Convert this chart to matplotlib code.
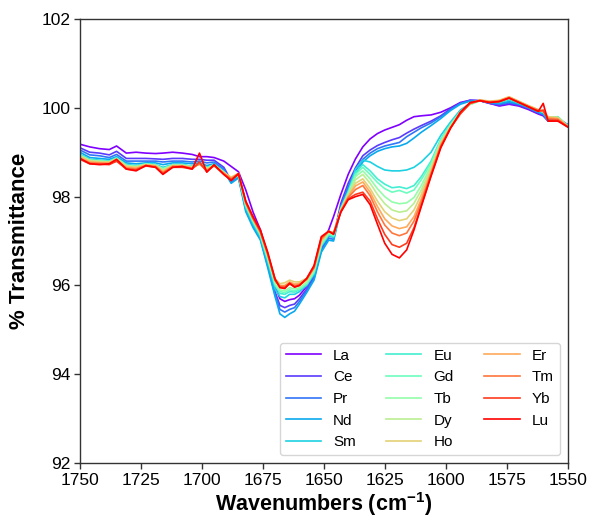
import numpy as np
import matplotlib
matplotlib.use("Agg")
import matplotlib.pyplot as plt

plt.rcParams['font.family'] = ['Liberation Sans', 'DejaVu Sans']
plt.rcParams['mathtext.fontset'] = 'custom'
plt.rcParams['mathtext.rm'] = 'Liberation Sans'
plt.rcParams['mathtext.bf'] = 'Liberation Sans:bold'

wavenumbers = [1750, 1746, 1742, 1738, 1735, 1731, 1727, 1723, 1719, 1716, 1712, 1708, 1704, 1701, 1698, 1695, 1691,
               1688, 1685, 1682, 1679, 1676, 1673, 1670, 1668, 1666, 1664, 1662, 1660, 1657, 1654, 1651, 1648, 1646,
               1643, 1640, 1637, 1634, 1631, 1628, 1625, 1622, 1619, 1616, 1613, 1610, 1606, 1602, 1598,
               1594, 1590, 1586, 1582, 1578, 1574, 1570, 1566, 1562, 1560, 1558, 1554, 1550]

labels = ['La', 'Ce', 'Pr', 'Nd', 'Sm', 'Eu', 'Gd', 'Tb', 'Dy', 'Ho', 'Er', 'Tm', 'Yb', 'Lu']

La = [99.18, 99.12, 99.08, 99.06, 99.14, 98.98, 99.00, 98.98, 98.97, 98.98, 99.00, 98.98, 98.95, 98.90, 98.90, 98.88, 98.80,
      98.68, 98.56, 98.15, 97.65, 97.25, 96.68, 96.00, 95.70, 95.64, 95.68, 95.70, 95.78, 95.98, 96.25, 96.90, 97.25, 97.55,
      98.05, 98.50, 98.85, 99.12, 99.30, 99.42, 99.50, 99.56, 99.62, 99.72, 99.80, 99.82, 99.84, 99.90, 100.00,
      100.12, 100.17, 100.16, 100.10, 100.04, 100.08, 100.04, 99.96, 99.86, 99.82, 99.70, 99.74, 99.62]
Ce = [99.10, 99.00, 98.98, 98.94, 99.02, 98.86, 98.86, 98.86, 98.85, 98.84, 98.86, 98.86, 98.84, 98.84, 98.82, 98.82, 98.66,
      98.36, 98.48, 97.74, 97.38, 97.08, 96.50, 95.86, 95.55, 95.50, 95.55, 95.58, 95.70, 95.92, 96.20, 96.84, 97.10, 97.10,
      97.85, 98.30, 98.65, 98.92, 99.05, 99.15, 99.22, 99.28, 99.33, 99.43, 99.52, 99.60, 99.70, 99.82, 99.98,
      100.10, 100.17, 100.16, 100.10, 100.06, 100.10, 100.06, 99.98, 99.88, 99.84, 99.72, 99.75, 99.62]
Pr = [99.05, 98.94, 98.92, 98.88, 98.95, 98.80, 98.80, 98.80, 98.80, 98.78, 98.80, 98.80, 98.78, 98.80, 98.76, 98.78, 98.62,
      98.32, 98.44, 97.70, 97.34, 97.05, 96.45, 95.80, 95.46, 95.40, 95.46, 95.50, 95.64, 95.88, 96.16, 96.80, 97.06, 97.04,
      97.78, 98.22, 98.58, 98.84, 98.98, 99.08, 99.14, 99.18, 99.22, 99.35, 99.45, 99.55, 99.66, 99.80, 99.96,
      100.10, 100.16, 100.16, 100.11, 100.08, 100.12, 100.08, 100.00, 99.90, 99.86, 99.72, 99.76, 99.62]
Nd = [99.00, 98.88, 98.86, 98.84, 98.90, 98.76, 98.74, 98.76, 98.76, 98.72, 98.76, 98.76, 98.74, 98.76, 98.70, 98.74, 98.58,
      98.30, 98.42, 97.66, 97.30, 97.02, 96.40, 95.75, 95.36, 95.28, 95.36, 95.42, 95.58, 95.84, 96.12, 96.75, 97.02, 97.00,
      97.72, 98.15, 98.50, 98.78, 98.92, 99.02, 99.08, 99.12, 99.14, 99.20, 99.32, 99.45, 99.60, 99.76, 99.94,
      100.08, 100.15, 100.16, 100.12, 100.10, 100.14, 100.09, 100.00, 99.90, 99.86, 99.70, 99.76, 99.60]
Sm = [98.95, 98.84, 98.82, 98.80, 98.88, 98.72, 98.70, 98.74, 98.72, 98.66, 98.72, 98.72, 98.68, 98.74, 98.66, 98.72, 98.56,
      98.38, 98.46, 97.74, 97.38, 97.08, 96.52, 95.92, 95.75, 95.72, 95.80, 95.80, 95.86, 96.00, 96.25, 96.88, 97.12, 97.08,
      97.75, 98.12, 98.62, 98.82, 98.78, 98.68, 98.60, 98.58, 98.58, 98.60, 98.66, 98.78, 99.00, 99.38, 99.68,
      99.95, 100.10, 100.16, 100.13, 100.12, 100.18, 100.10, 100.02, 99.93, 99.90, 99.76, 99.78, 99.60]
Eu = [98.94, 98.83, 98.81, 98.80, 98.87, 98.71, 98.69, 98.74, 98.72, 98.64, 98.72, 98.72, 98.68, 98.74, 98.65, 98.72, 98.56,
      98.40, 98.48, 97.78, 97.42, 97.12, 96.58, 96.00, 95.82, 95.80, 95.86, 95.85, 95.90, 96.02, 96.28, 96.90, 97.15, 97.10,
      97.72, 98.10, 98.55, 98.72, 98.58, 98.40, 98.28, 98.20, 98.22, 98.18, 98.25, 98.45, 98.80, 99.30, 99.64,
      99.92, 100.08, 100.16, 100.13, 100.13, 100.20, 100.12, 100.03, 99.94, 99.90, 99.78, 99.80, 99.60]
Gd = [98.93, 98.82, 98.80, 98.79, 98.86, 98.70, 98.68, 98.73, 98.71, 98.63, 98.71, 98.71, 98.67, 98.73, 98.65, 98.71, 98.55,
      98.40, 98.48, 97.80, 97.44, 97.14, 96.60, 96.02, 95.86, 95.84, 95.90, 95.88, 95.92, 96.04, 96.30, 96.92, 97.16, 97.12,
      97.72, 98.08, 98.50, 98.66, 98.50, 98.32, 98.18, 98.10, 98.14, 98.08, 98.15, 98.38, 98.75, 99.28, 99.62,
      99.90, 100.08, 100.16, 100.13, 100.14, 100.21, 100.12, 100.03, 99.94, 99.91, 99.78, 99.79, 99.59]
Tb = [98.92, 98.82, 98.80, 98.78, 98.86, 98.70, 98.68, 98.73, 98.71, 98.62, 98.71, 98.71, 98.67, 98.73, 98.64, 98.71, 98.55,
      98.42, 98.50, 97.82, 97.46, 97.16, 96.62, 96.05, 95.90, 95.88, 95.95, 95.92, 95.95, 96.06, 96.33, 96.95, 97.18, 97.14,
      97.71, 98.06, 98.45, 98.58, 98.40, 98.18, 98.00, 97.88, 97.84, 97.86, 97.98, 98.25, 98.70, 99.25, 99.60,
      99.90, 100.08, 100.16, 100.14, 100.15, 100.22, 100.13, 100.04, 99.95, 99.92, 99.78, 99.78, 99.59]
Dy = [98.92, 98.81, 98.79, 98.78, 98.85, 98.69, 98.67, 98.72, 98.70, 98.60, 98.70, 98.70, 98.66, 98.73, 98.63, 98.70, 98.54,
      98.42, 98.50, 97.84, 97.48, 97.18, 96.65, 96.10, 95.97, 95.96, 96.02, 95.98, 96.00, 96.10, 96.36, 96.98, 97.20, 97.16,
      97.70, 98.04, 98.38, 98.50, 98.30, 98.05, 97.84, 97.70, 97.65, 97.68, 97.85, 98.15, 98.65, 99.22, 99.58,
      99.90, 100.08, 100.17, 100.14, 100.16, 100.23, 100.14, 100.04, 99.95, 99.92, 99.79, 99.78, 99.59]
Ho = [98.90, 98.80, 98.78, 98.78, 98.84, 98.68, 98.66, 98.72, 98.70, 98.58, 98.70, 98.70, 98.66, 98.74, 98.62, 98.70, 98.54,
      98.44, 98.52, 97.86, 97.50, 97.20, 96.68, 96.15, 96.04, 96.06, 96.12, 96.08, 96.08, 96.16, 96.40, 97.00, 97.22, 97.18,
      97.69, 98.02, 98.30, 98.40, 98.18, 97.90, 97.66, 97.52, 97.46, 97.50, 97.70, 98.05, 98.60, 99.20, 99.57,
      99.90, 100.10, 100.18, 100.15, 100.17, 100.25, 100.15, 100.05, 99.96, 99.93, 99.80, 99.78, 99.59]
Er = [98.88, 98.78, 98.76, 98.76, 98.82, 98.66, 98.64, 98.71, 98.69, 98.56, 98.69, 98.69, 98.65, 98.74, 98.60, 98.70, 98.53,
      98.42, 98.52, 97.86, 97.50, 97.20, 96.70, 96.14, 96.00, 96.00, 96.08, 96.03, 96.05, 96.14, 96.40, 97.02, 97.22, 97.18,
      97.68, 98.00, 98.24, 98.33, 98.10, 97.78, 97.50, 97.34, 97.28, 97.32, 97.55, 97.95, 98.55, 99.18, 99.56,
      99.88, 100.10, 100.17, 100.14, 100.16, 100.24, 100.14, 100.04, 99.95, 99.92, 99.78, 99.76, 99.58]
Tm = [98.86, 98.76, 98.75, 98.74, 98.80, 98.64, 98.62, 98.70, 98.68, 98.54, 98.68, 98.68, 98.64, 98.74, 98.58, 98.70, 98.52,
      98.40, 98.52, 97.86, 97.50, 97.20, 96.70, 96.12, 95.98, 95.98, 96.05, 96.00, 96.02, 96.14, 96.40, 97.05, 97.22, 97.18,
      97.67, 97.98, 98.16, 98.25, 98.02, 97.66, 97.36, 97.18, 97.12, 97.18, 97.45, 97.88, 98.52, 99.15, 99.55,
      99.88, 100.10, 100.17, 100.13, 100.15, 100.23, 100.13, 100.03, 99.94, 99.92, 99.76, 99.74, 99.58]
Yb = [98.84, 98.74, 98.73, 98.72, 98.80, 98.62, 98.60, 98.69, 98.66, 98.52, 98.66, 98.66, 98.62, 98.78, 98.56, 98.70, 98.50,
      98.38, 98.50, 97.88, 97.52, 97.22, 96.72, 96.12, 95.96, 95.95, 96.04, 95.97, 96.00, 96.15, 96.42, 97.08, 97.22, 97.16,
      97.66, 97.95, 98.05, 98.10, 97.90, 97.50, 97.15, 96.92, 96.86, 96.95, 97.30, 97.80, 98.48, 99.12, 99.55,
      99.86, 100.10, 100.16, 100.12, 100.14, 100.22, 100.12, 100.02, 99.92, 99.95, 99.72, 99.72, 99.57]
Lu = [98.86, 98.74, 98.72, 98.74, 98.84, 98.62, 98.58, 98.70, 98.66, 98.50, 98.66, 98.68, 98.62, 98.98, 98.55, 98.72, 98.50,
      98.36, 98.52, 97.90, 97.55, 97.25, 96.75, 96.15, 95.95, 95.93, 96.05, 95.96, 96.00, 96.16, 96.45, 97.10, 97.22, 97.15,
      97.65, 97.93, 98.00, 98.05, 97.82, 97.38, 96.95, 96.70, 96.62, 96.80, 97.25, 97.78, 98.46, 99.10, 99.54,
      99.90, 100.12, 100.16, 100.12, 100.14, 100.22, 100.12, 100.02, 99.92, 100.10, 99.70, 99.70, 99.57]

series = [La, Ce, Pr, Nd, Sm, Eu, Gd, Tb, Dy, Ho, Er, Tm, Yb, Lu]

xticks = [1750, 1725, 1700, 1675, 1650, 1625, 1600, 1575, 1550]
yticks = [92, 94, 96, 98, 100, 102]

fig = plt.figure(figsize=(5.9, 5.25), dpi=100)
ax = fig.add_axes([0.1356, 0.118, 0.962 - 0.1356, 0.9638 - 0.118])

colors = plt.cm.rainbow(np.linspace(0, 1, len(series)))
for lab, vals, c in zip(labels, series, colors):
    ax.plot(wavenumbers, vals, color=c, lw=1.2, label=lab)

ax.set_xlim(1750, 1550)
ax.set_ylim(92, 102)
ax.set_xticks(xticks)
ax.set_yticks(yticks)
ax.tick_params(axis='both', labelsize=12.5, length=4, width=1, color='#333333', pad=3)
for s in ax.spines.values():
    s.set_color('#333333')
    s.set_linewidth(1.0)

ax.set_xlabel(r'Wavenumbers (cm$^{\mathbf{-1}}$)', fontsize=15.5, fontweight='bold', labelpad=2)
ax.set_ylabel('% Transmittance', fontsize=16, fontweight='bold', labelpad=8)

leg = ax.legend(loc='lower right', ncol=3, fontsize=11, handlelength=2.3, frameon=True,
                fancybox=True, edgecolor='#cccccc', labelspacing=0.5)

fig.savefig('out.png', dpi=100)
